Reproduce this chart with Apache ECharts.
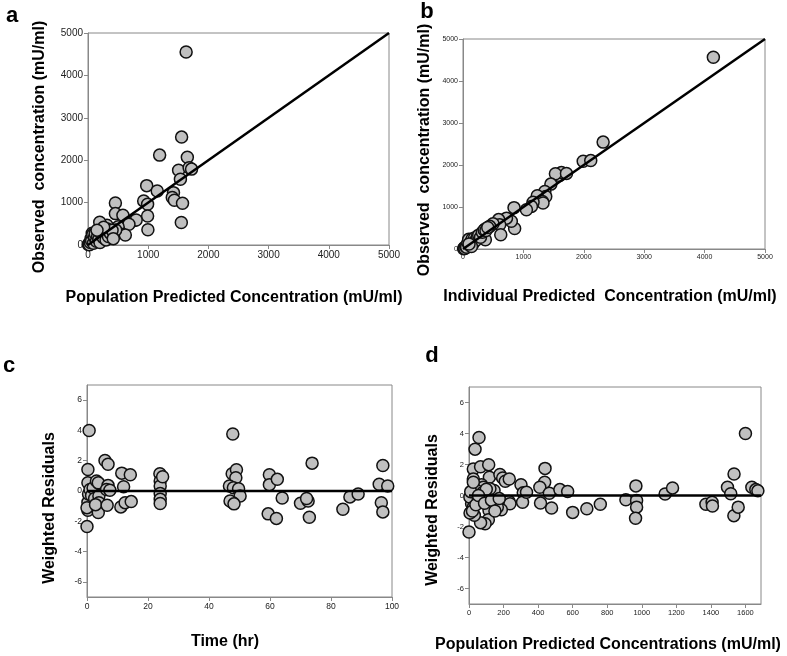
<!DOCTYPE html>
<html>
<head>
<meta charset="utf-8">
<script src="https://cdn.jsdelivr.net/npm/echarts@6.0.0/dist/echarts.min.js"></script>
<style>
  html, body { margin: 0; padding: 0; background: #fff; }
  #main { width: 787px; height: 656px; }
</style>
</head>
<body>
<div id="main"></div>
<script>
// panel a: population predicted vs observed
const aPred = [1630,1555,1190,1650,1505,1680,1720,1535,975,1150,
  925,990,1420,1400,1435,1570,1550,990,995,455,
  455,580,770,800,680,500,500,620,315,195,
  70,460,5,15,25,40,50,60,80,90,
  110,120,140,160,180,200,210,230,250,280,
  300,320,340,370,400,420,260,150];
const aObs = [4550,2545,2120,2070,1765,1820,1790,1550,1400,1275,
  1040,960,1235,1120,1055,985,530,685,360,990,
  740,700,580,590,490,430,290,235,465,535,
  275,355,10,30,5,60,150,100,240,40,
  180,270,90,210,130,60,300,240,180,320,
  120,380,200,280,350,150,420,350];

// panel b: individual predicted vs observed
const bPred = [4145,2320,1990,2115,1600,1630,1530,1713,1455,1355,
  1370,1230,1315,1325,1160,1133,1050,845,855,800,
  720,590,608,625,497,442,370,348,370,10,
  20,30,45,60,80,95,110,130,150,170,
  190,210,240,260,290,320,350,380,410,140,100];
const bObs = [4565,2545,2090,2105,1750,1820,1790,1800,1545,1370,
  1250,1270,1133,1095,1115,1014,935,985,490,660,
  735,700,578,340,602,539,475,420,222,5,
  30,10,60,40,150,230,90,170,240,130,
  260,200,300,330,280,400,450,440,510,60,120];

// panel c: weighted residuals vs time
const cTime = [0.7,0.3,0,0.3,0.3,0.3,0,0.5,1,1.5,
  2,2.5,3.1,3.9,3.9,3.9,3.7,3.7,2.8,5.9,
  6.9,6.9,6.6,6.4,7.5,11.4,12,14.2,11.1,12.5,
  14.5,23.9,24,24,24,24,24,24.8,47.8,47.6,
  49,48.8,46.7,48,49.7,50.2,47.8,46.9,48.2,59.8,
  59.8,62.4,59.4,62.1,64,73.8,70,72.5,72,72.9,
  83.9,86.2,88.9,97,95.8,96.5,97,98.6];
const cRes = [4.0,1.42,-2.34,0.55,-0.75,-1.27,-1.1,-0.2,0.1,-0.3,
  0.2,-0.5,0.66,0.5,-0.33,-0.77,-1.42,0.55,-0.9,2.01,
  1.77,0.37,-0.94,0.1,0.05,1.18,0.28,1.07,-1.05,-0.77,
  -0.7,1.14,0.66,0.33,-0.17,-0.55,-0.83,0.94,3.76,1.14,
  1.4,0.87,0.33,0.22,0.15,-0.33,-0.77,-0.66,-0.85,1.07,
  0.42,0.77,-1.51,-1.81,-0.46,1.84,-0.81,-0.66,-0.5,-1.73,
  -1.2,-0.39,-0.2,1.68,0.44,-0.77,-1.38,0.33];

// panel d: weighted residuals vs population predicted
const dPred = [1600,58,35,0,25,67,114,118,25,73,
  179,195,210,233,301,440,438,410,465,526,
  571,600,478,414,682,760,908,966,970,970,
  964,1135,1178,1371,1407,1409,1496,1534,1515,1533,
  1558,1637,1660,1672,314,310,333,231,237,187,
  164,145,121,112,116,112,93,67,31,6,
  15,5,54,25,64,83,44,10,20,40,
  25,80,100,55,90,130,150,175];
const dRes = [4.0,3.74,2.99,-2.35,1.71,1.86,1.99,1.18,1.07,0.7,
  1.35,1.13,0.92,1.07,0.70,1.75,0.85,0.53,0.15,0.38,
  0.26,-1.09,-0.81,-0.49,-0.85,-0.56,-0.28,0.62,-0.32,-0.75,
  -1.47,0.1,0.49,-0.56,-0.43,-0.68,0.53,1.39,0.11,-1.30,
  -0.75,0.53,0.38,0.3,0.17,-0.43,0.21,-0.38,-0.53,-0.92,
  -0.75,0.32,0.43,-0.36,-0.96,-1.56,-1.82,-1.75,-1.28,-1.13,
  -0.53,-0.1,-0.21,-0.75,0.11,0.53,0.32,0.25,-1.0,-0.6,
  0.85,0.2,0.4,0.0,-0.5,-0.3,-1.0,-0.2];

const concTicks = [0,1000,2000,3000,4000,5000];
const resTicks = [-6,-4,-2,0,2,4,6];
const timeTicks = [0,20,40,60,80,100];
const dTicks = [0,200,400,600,800,1000,1200,1400,1600];

const FONT = 'Arial, "Liberation Sans", sans-serif';

function pairs(xs, ys) {
  return xs.map((x, i) => [x, ys[i]]);
}

function axis(gridIndex, min, max, ticks, fontSize) {
  return {
    type: 'value',
    gridIndex: gridIndex,
    min: min,
    max: max,
    axisLine: { show: true, onZero: false, lineStyle: { color: '#888', width: 1 } },
    axisTick: { show: true, inside: false, length: 4, customValues: ticks, lineStyle: { color: '#888' } },
    axisLabel: {
      customValues: ticks,
      color: '#222',
      fontSize: fontSize,
      fontFamily: FONT,
      margin: 5,
      formatter: v => String(v)   // no thousands separators
    },
    splitLine: { show: false }
  };
}

function scatter(idx, data) {
  return {
    type: 'scatter',
    xAxisIndex: idx,
    yAxisIndex: idx,
    data: data,
    symbol: 'circle',
    symbolSize: 12,
    itemStyle: { color: '#c0c0c0', borderColor: '#111', borderWidth: 1.5, opacity: 1 },
    z: 2
  };
}

function refLine(idx, data) {
  return {
    type: 'line',
    xAxisIndex: idx,
    yAxisIndex: idx,
    data: data,
    symbol: 'none',
    silent: true,
    lineStyle: { color: '#000', width: 2.5 },
    z: 3
  };
}

function txt(x, y, text, size, rotate) {
  return {
    type: 'text',
    x: x,
    y: y,
    rotation: rotate ? Math.PI / 2 : 0,
    style: {
      text: text,
      font: 'bold ' + size + 'px ' + FONT,
      fill: '#000',
      align: 'center',
      verticalAlign: 'middle'
    }
  };
}

const chart = echarts.init(document.getElementById('main'));
const gridStyle = { show: true, borderColor: '#888', borderWidth: 1, backgroundColor: '#fff' };

const option = {
  animation: false,
  grid: [
    Object.assign({ left: 88, top: 33, width: 301, height: 212 }, gridStyle),
    Object.assign({ left: 463, top: 39, width: 302, height: 210 }, gridStyle),
    Object.assign({ left: 87, top: 385, width: 305, height: 212 }, gridStyle),
    Object.assign({ left: 469, top: 387, width: 292, height: 217 }, gridStyle)
  ],
  xAxis: [
    axis(0, 0, 5000, concTicks, 10),
    axis(1, 0, 5000, concTicks, 7),
    axis(2, 0, 100, timeTicks, 8.5),
    axis(3, 0, 1690, dTicks, 7.5)
  ],
  yAxis: [
    axis(0, 0, 5000, concTicks, 10),
    axis(1, 0, 5000, concTicks, 7),
    axis(2, -7, 7, resTicks, 8.5),
    axis(3, -7, 7, resTicks, 7.5)
  ],
  series: [
    scatter(0, pairs(aPred, aObs)),
    refLine(0, [[0, 0], [5000, 5000]]),
    scatter(1, pairs(bPred, bObs)),
    refLine(1, [[0, 0], [5000, 5000]]),
    scatter(2, pairs(cTime, cRes)),
    refLine(2, [[0, 0], [100, 0]]),
    scatter(3, pairs(dPred, dRes)),
    refLine(3, [[0, 0], [1690, 0]])
  ],
  graphic: [
    txt(12, 16, 'a', 22),
    txt(427, 12, 'b', 22),
    txt(9, 366, 'c', 22),
    txt(432, 356, 'd', 22),
    txt(40, 147, 'Observed  concentration (mU/ml)', 16, true),
    txt(425, 150, 'Observed  concentration (mU/ml)', 16, true),
    txt(50, 508, 'Weighted Residuals', 16, true),
    txt(433, 510, 'Weighted Residuals', 16, true),
    txt(234, 298, 'Population Predicted Concentration (mU/ml)', 16),
    txt(610, 297, 'Individual Predicted  Concentration (mU/ml)', 16),
    txt(225, 642, 'Time (hr)', 16),
    txt(608, 645, 'Population Predicted Concentrations (mU/ml)', 16)
  ]
};

chart.setOption(option);
</script>
</body>
</html>
